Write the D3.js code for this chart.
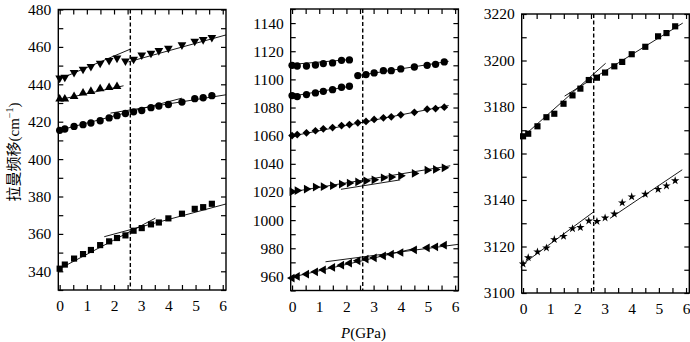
<!DOCTYPE html>
<html>
<head>
<meta charset="utf-8">
<script src="https://cdn.jsdelivr.net/npm/d3@7"></script>
<style>
  body { margin: 0; background: #fff; }
  svg { display: block; }
  svg text { font-family: "Liberation Serif", "Times New Roman", serif; }
  svg text.cjk { font-family: "Liberation Serif", "Noto Sans CJK SC", serif; }
</style>
</head>
<body>
<svg id="chart" width="690" height="342"></svg>
<script>
// Pressure steps (GPa) of the Raman runs
const pressure = [0, 0.19, 0.53, 0.86, 1.15, 1.49, 1.82, 2.11, 2.42, 2.72, 3.02, 3.36, 3.65, 4.0, 4.5, 4.97, 5.28, 5.6];
const transitionP = 2.6;

// Low-frequency modes (cm^-1)
const modeDown465 = [443.3, 443.8, 446.3, 448.1, 449.5, 451.3, 452.7, 454.0, 452.5, 453.4, 455.7, 456.6, 458.0, 459.3, 461.1, 463.0, 463.9, 465.0];
const modeUp439   = [432.1, 432.1, 433.5, 435.3, 436.2, 437.6, 438.3, 438.8];
const modeCirc434 = [415.4, 416.1, 417.5, 418.4, 419.3, 420.5, 422.0, 423.2, 424.4, 425.3, 426.0, 427.5, 428.4, 429.2, 430.5, 432.3, 432.8, 433.9];
const modeSq376   = [341.4, 343.6, 346.8, 349.2, 351.4, 354.0, 356.0, 357.8, 359.2, 361.7, 363.1, 365.1, 366.1, 368.3, 370.8, 373.4, 374.3, 376.1];

// Mid-frequency modes (cm^-1)
const modeHex1114 = [1110.0, 1109.5, 1109.5, 1110.2, 1111.2, 1111.7, 1113.5, 1113.8];
const modeHex1112 = [1088.5, 1087.8, 1089.2, 1090.4, 1091.5, 1092.7, 1094.4, 1095.1, 1102.7, 1103.4, 1104.6, 1106.2, 1106.2, 1107.4, 1108.8, 1110.0, 1110.7, 1112.4];
const modeDia1080 = [1060.1, 1060.8, 1062.0, 1063.5, 1064.9, 1065.8, 1067.2, 1067.9, 1069.1, 1070.1, 1071.5, 1072.7, 1073.4, 1074.8, 1076.6, 1078.8, 1079.3, 1080.2];
const modeRt1037  = [1020.2, 1021.0, 1022.1, 1023.5, 1023.8, 1024.5, 1025.6, 1026.3, 1027.1, 1027.9, 1028.6, 1030.1, 1030.6, 1031.5, 1033.2, 1035.5, 1036.0, 1037.2];
const modeLt982   = [958.8, 960.0, 961.6, 963.3, 964.7, 966.4, 968.0, 969.4, 971.1, 972.3, 973.2, 974.6, 975.8, 977.0, 978.9, 980.3, 981.0, 982.2];

// High-frequency modes (cm^-1)
const modeSq3215   = [3167.4, 3168.5, 3171.7, 3175.6, 3177.1, 3181.4, 3185.0, 3187.9, 3191.6, 3192.6, 3194.8, 3197.5, 3199.4, 3202.7, 3205.9, 3210.4, 3211.8, 3214.7];
const modeStar3148 = [3112.5, 3115.2, 3117.7, 3119.4, 3123.0, 3124.4, 3127.7, 3128.2, 3131.0, 3130.8, 3132.3, 3134.0, 3138.8, 3141.4, 3142.5, 3144.6, 3146.1, 3148.3];

// Linear fits: [P start, freq start, P end, freq end]
const fitDown465 = [[-0.04, 442.6, 2.6, 458.8], [2.53, 452.0, 6.12, 466.4]];
const fitUp439   = [[-0.04, 431.7, 2.35, 439.2]];
const fitCirc434 = [[-0.04, 415.3, 4.5, 432.6], [1.87, 424.6, 6.12, 434.4]];
const fitSq376   = [[-0.04, 341.1, 3.52, 368.4], [1.64, 358.5, 6.12, 376.0]];
const fitHex1114 = [[-0.04, 1110.6, 2.2, 1114.2]];
const fitHex1112 = [[-0.04, 1087.9, 2.2, 1095.3], [2.33, 1102.4, 5.76, 1112.8]];
const fitDia1080 = [[-0.04, 1059.6, 5.76, 1081.4]];
const fitRt1037  = [[-0.04, 1020.0, 5.82, 1038.6], [1.8, 1021.9, 3.98, 1028.6]];
const fitLt982   = [[-0.04, 959.3, 4.6, 980.3], [1.23, 970.4, 6.12, 982.8]];
const fitSq3215  = [[-0.06, 3166.7, 3.04, 3198.8], [1.53, 3184.7, 5.88, 3216.1]];
const fitStar3148 = [[-0.06, 3112.0, 2.6, 3134.9], [3.2, 3132.1, 5.86, 3153.0]];

// Axis ticks
const xLabelTicks = [0, 1, 2, 3, 4, 5, 6];
const yLabelsLow  = [340, 360, 380, 400, 420, 440, 460, 480];
const yLabelsMid  = [960, 980, 1000, 1020, 1040, 1060, 1080, 1100, 1120, 1140];
const yLabelsHigh = [3100, 3120, 3140, 3160, 3180, 3200, 3220];

const xDomain = [-0.05, 6.12];

// Marker shapes
const diamondSym = {
  draw(ctx, size) {
    const r = Math.sqrt(size / 2);
    ctx.moveTo(0, -r); ctx.lineTo(r, 0); ctx.lineTo(0, r); ctx.lineTo(-r, 0); ctx.closePath();
  }
};
const markers = {
  down:  { type: d3.symbolTriangle, size: 33, rot: 180 },
  up:    { type: d3.symbolTriangle, size: 33, rot: 0 },
  circ:  { type: d3.symbolCircle, size: 42, rot: 0 },
  hex:   { type: d3.symbolCircle, size: 42, rot: 0 },
  sq:    { type: d3.symbolSquare, size: 38, rot: 0 },
  dia:   { type: diamondSym, size: 30, rot: 0 },
  right: { type: d3.symbolTriangle, size: 33, rot: 90 },
  left:  { type: d3.symbolTriangle, size: 33, rot: -90 },
  star:  { type: d3.symbolStar, size: 22, rot: 0 }
};

const panels = [
  { x0: 58.3, x1: 226, y0: 9.5, y1: 290, yDomain: [330, 480], yLabels: yLabelsLow, yMinorStep: 10,
    series: [
      { values: modeDown465, marker: "down", fits: fitDown465 },
      { values: modeUp439, marker: "up", fits: fitUp439 },
      { values: modeCirc434, marker: "circ", fits: fitCirc434 },
      { values: modeSq376, marker: "sq", fits: fitSq376 }
    ] },
  { x0: 290.7, x1: 458.4, y0: 9, y1: 290.5, yDomain: [950, 1150], yLabels: yLabelsMid, yMinorStep: 10,
    series: [
      { values: modeHex1114, marker: "hex", fits: fitHex1114 },
      { values: modeHex1112, marker: "hex", fits: fitHex1112 },
      { values: modeDia1080, marker: "dia", fits: fitDia1080 },
      { values: modeRt1037, marker: "right", fits: fitRt1037 },
      { values: modeLt982, marker: "left", fits: fitLt982 }
    ] },
  { x0: 521.7, x1: 689.3, y0: 14, y1: 293, yDomain: [3100, 3220], yLabels: yLabelsHigh, yMinorStep: 10,
    series: [
      { values: modeSq3215, marker: "sq", fits: fitSq3215 },
      { values: modeStar3148, marker: "star", fits: fitStar3148 }
    ] }
];

const svg = d3.select("#chart");

const xMinorTicks = d3.range(0, 6.01, 0.5);

function styleAxis(sel) {
  sel.attr("font-family", null).attr("font-size", null);
  sel.select(".domain").remove();
  sel.selectAll(".tick line").attr("stroke", "#000").attr("stroke-width", 1.2);
  sel.selectAll(".tick text").style("font-size", "15.5px").attr("fill", "#000");
}

panels.forEach(p => {
  const x = d3.scaleLinear().domain(xDomain).range([p.x0, p.x1]);
  const y = d3.scaleLinear().domain(p.yDomain).range([p.y1, p.y0]);
  const g = svg.append("g");

  const yTicks = d3.range(p.yDomain[0], p.yDomain[1] + 0.01, p.yMinorStep);
  const labelSet = new Set(p.yLabels);

  // axes with inward ticks on all four sides
  g.append("g").attr("transform", `translate(0,${p.y1})`)
    .call(d3.axisBottom(x).tickValues(xMinorTicks).tickSize(-5).tickSizeOuter(0).tickPadding(10)
      .tickFormat(d => xLabelTicks.includes(d) ? d3.format("d")(d) : ""))
    .call(styleAxis);
  g.append("g").attr("transform", `translate(0,${p.y0})`)
    .call(d3.axisTop(x).tickValues(xMinorTicks).tickSize(-5).tickSizeOuter(0).tickFormat(""))
    .call(styleAxis);
  g.append("g").attr("transform", `translate(${p.x0},0)`)
    .call(d3.axisLeft(y).tickValues(yTicks).tickSize(-5).tickSizeOuter(0).tickPadding(7)
      .tickFormat(d => labelSet.has(d) ? d3.format("d")(d) : ""))
    .call(styleAxis);
  g.append("g").attr("transform", `translate(${p.x1},0)`)
    .call(d3.axisRight(y).tickValues(yTicks).tickSize(-5).tickSizeOuter(0).tickFormat(""))
    .call(styleAxis);

  // frame
  g.append("rect")
    .attr("x", p.x0).attr("y", p.y0)
    .attr("width", p.x1 - p.x0).attr("height", p.y1 - p.y0)
    .attr("fill", "none").attr("stroke", "#000").attr("stroke-width", 1.4);

  // phase-transition pressure
  g.append("line")
    .attr("x1", x(transitionP)).attr("x2", x(transitionP))
    .attr("y1", p.y0).attr("y2", p.y1)
    .attr("stroke", "#000").attr("stroke-width", 1.4).attr("stroke-dasharray", "4,2.5");

  p.series.forEach(s => {
    // fit lines
    g.selectAll(null).data(s.fits).join("line")
      .attr("x1", d => x(d[0])).attr("y1", d => y(d[1]))
      .attr("x2", d => x(d[2])).attr("y2", d => y(d[3]))
      .attr("stroke", "#000").attr("stroke-width", 0.9);

    // measured points
    const m = markers[s.marker];
    const sym = d3.symbol().type(m.type).size(m.size);
    g.selectAll(null).data(s.values.map((v, i) => [pressure[i], v])).join("path")
      .attr("d", sym)
      .attr("transform", d => `translate(${x(d[0])},${y(d[1])}) rotate(${m.rot})`)
      .attr("fill", "#000");
  });
});

// axis titles
const yTitle = svg.append("text")
  .attr("class", "cjk")
  .attr("transform", "translate(19,152) rotate(-90)")
  .attr("text-anchor", "middle")
  .style("font-size", "15px").attr("fill", "#000");
yTitle.append("tspan").text("拉曼频移(cm");
yTitle.append("tspan").attr("dy", -6).style("font-size", "10px").text("−1");
yTitle.append("tspan").attr("dy", 6).text(")");

const xTitle = svg.append("text")
  .attr("x", 363.5).attr("y", 338)
  .attr("text-anchor", "middle")
  .style("font-size", "15px").attr("fill", "#000");
xTitle.append("tspan").attr("font-style", "italic").text("P");
xTitle.append("tspan").text("(GPa)");
</script>
</body>
</html>
